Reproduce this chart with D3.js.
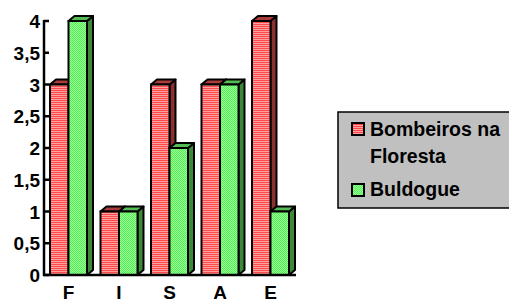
<!DOCTYPE html>
<html>
<head>
<meta charset="utf-8">
<script src="https://cdn.jsdelivr.net/npm/d3@7"></script>
<style>
body { margin: 0; background: #fff; }
svg { display: block; }
text { font-family: "Liberation Sans", Arial, sans-serif; font-weight: 700; fill: #000; }
</style>
</head>
<body>
<svg width="509" height="302"></svg>
<script>
var categories = ["F", "I", "S", "A", "E"];
var bombeiros = [3, 1, 3, 3, 4];
var buldogue = [4, 1, 2, 3, 1];
var seriesNames = ["Bombeiros na Floresta", "Buldogue"];
var yTicks = [0, 0.5, 1, 1.5, 2, 2.5, 3, 3.5, 4];

var svg = d3.select("svg");
var defs = svg.append("defs");

var pr = defs.append("pattern").attr("id", "redfill")
	.attr("patternUnits", "userSpaceOnUse").attr("width", 4).attr("height", 2);
pr.append("rect").attr("width", 4).attr("height", 1).attr("fill", "#ff4a4a");
pr.append("rect").attr("y", 1).attr("width", 4).attr("height", 1).attr("fill", "#ffa0a0");

var pg = defs.append("pattern").attr("id", "greenfill")
	.attr("patternUnits", "userSpaceOnUse").attr("width", 2).attr("height", 2);
pg.append("rect").attr("width", 2).attr("height", 2).attr("fill", "#99ff99");
pg.append("rect").attr("width", 1).attr("height", 1).attr("fill", "#55ee55");
pg.append("rect").attr("x", 1).attr("y", 1).attr("width", 1).attr("height", 1).attr("fill", "#55ee55");

var series = [
	{name: seriesNames[0], values: bombeiros, front: "url(#redfill)", top: "#a83c3c", side: "#8a3030"},
	{name: seriesNames[1], values: buldogue, front: "url(#greenfill)", top: "#55bb55", side: "#3a8a3a"}
];

var x = d3.scaleBand().domain(categories).range([44, 296.5]).padding(0);
var y = d3.scaleLinear().domain([0, 4]).range([275, 21]);

var barW = 18.5, off = 6, dx = 6, dy = 5;
var g = svg.append("g");

series.forEach(function(s, si) {
	var sg = g.append("g");
	categories.forEach(function(c, i) {
		var x0 = x(c) + off + si * barW;
		var y0 = y(s.values[i]);
		var yb = y(0);
		// side face
		sg.append("path")
			.attr("d", "M" + (x0 + barW) + "," + y0 + "L" + (x0 + barW + dx) + "," + (y0 - dy) +
				"L" + (x0 + barW + dx) + "," + (yb - dy) + "L" + (x0 + barW) + "," + yb + "Z")
			.attr("fill", s.side).attr("stroke", "#000").attr("stroke-width", 2).attr("stroke-linejoin", "round");
		// top face
		sg.append("path")
			.attr("d", "M" + x0 + "," + y0 + "L" + (x0 + dx) + "," + (y0 - dy) +
				"L" + (x0 + barW + dx) + "," + (y0 - dy) + "L" + (x0 + barW) + "," + y0 + "Z")
			.attr("fill", s.top).attr("stroke", "#000").attr("stroke-width", 2).attr("stroke-linejoin", "round");
		// front face
		sg.append("rect")
			.attr("x", x0).attr("y", y0).attr("width", barW).attr("height", yb - y0)
			.attr("fill", s.front).attr("stroke", "#000").attr("stroke-width", 2);
	});
});

// y axis
var yAxis = svg.append("g");
yAxis.append("line").attr("x1", 44).attr("x2", 44).attr("y1", y(4) - 1).attr("y2", y(0) + 1)
	.attr("stroke", "#000").attr("stroke-width", 2.5);
yAxis.selectAll(".tick").data(yTicks).enter().append("line")
	.attr("x1", 44).attr("x2", 49)
	.attr("y1", function(d) { return y(d); }).attr("y2", function(d) { return y(d); })
	.attr("stroke", "#000").attr("stroke-width", 2.5);
yAxis.selectAll(".lbl").data(yTicks).enter().append("text")
	.attr("x", 40).attr("y", function(d) { return y(d) + 7; })
	.attr("text-anchor", "end").style("font-size", "19px")
	.text(function(d) { return String(d).replace(".", ","); });

// x axis
svg.append("line").attr("x1", 43).attr("x2", 296).attr("y1", y(0)).attr("y2", y(0))
	.attr("stroke", "#000").attr("stroke-width", 2.5);
svg.selectAll(".xl").data(categories).enter().append("text")
	.attr("x", function(d) { return x(d) + off + barW; })
	.attr("y", 299).attr("text-anchor", "middle").style("font-size", "19px")
	.text(function(d) { return d; });

// legend
var lg = svg.append("g");
lg.append("rect").attr("x", 338).attr("y", 112).attr("width", 180).attr("height", 96)
	.attr("fill", "#c0c0c0").attr("stroke", "#000").attr("stroke-width", 1.5);
var legendRows = [
	{s: series[0], lines: ["Bombeiros na", "Floresta"], y: 123, base: [136, 163]},
	{s: series[1], lines: ["Buldogue"], y: 184, base: [196]}
];
legendRows.forEach(function(r) {
	lg.append("rect").attr("x", 352).attr("y", r.y).attr("width", 12).attr("height", 12)
		.attr("fill", r.s.front).attr("stroke", "#000").attr("stroke-width", 2);
	r.lines.forEach(function(t, k) {
		lg.append("text").attr("x", 370).attr("y", r.base[k])
			.style("font-size", "19.5px").text(t);
	});
});
</script>
</body>
</html>
